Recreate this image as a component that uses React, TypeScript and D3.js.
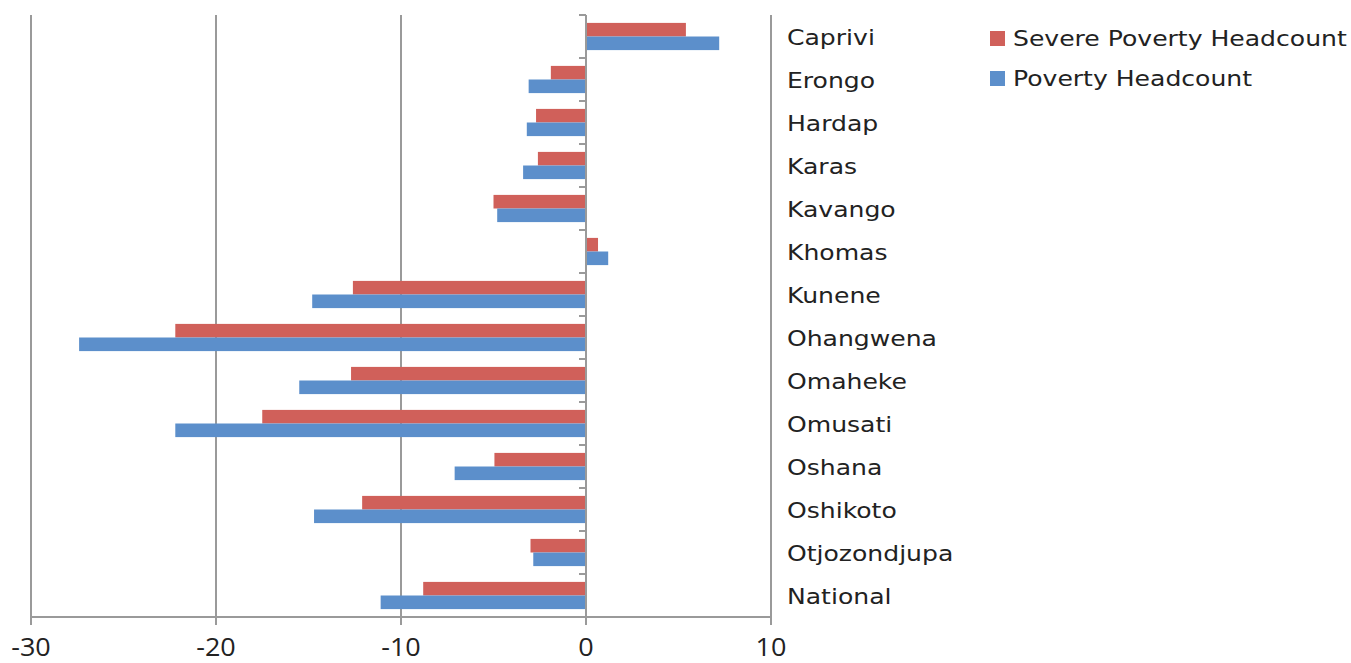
import React from "react";
import * as d3 from "d3";

const categories = [
  "Caprivi", "Erongo", "Hardap", "Karas", "Kavango", "Khomas", "Kunene",
  "Ohangwena", "Omaheke", "Omusati", "Oshana", "Oshikoto", "Otjozondjupa", "National",
];
const severePoverty = [5.4, -1.9, -2.7, -2.6, -5.0, 0.65, -12.6, -22.2, -12.7, -17.5, -4.95, -12.1, -3.0, -8.8];
const poverty = [7.2, -3.1, -3.2, -3.4, -4.8, 1.2, -14.8, -27.4, -15.5, -22.2, -7.1, -14.7, -2.85, -11.1];
const xTicks = [-30, -20, -10, 0, 10];
const seriesNames = ["Severe Poverty Headcount", "Poverty Headcount"];
const seriesColors = ["#D0605A", "#5C8FCB"];

export default function App() {
  const W = 1351, H = 663;
  const left = 31, right = 771, top = 15, bottom = 617;
  const x = d3.scaleLinear().domain([-30, 10]).range([left, right]);
  const y = d3.scaleBand<string>().domain(categories).range([top, bottom]).paddingInner(0).paddingOuter(0);
  const bw = y.bandwidth();
  const barH = 13.6;
  const gridColor = "#9a9a9a";
  const series = [severePoverty, poverty];
  const x0 = x(0);
  const sx = 1.14;
  const labelFont = "'DejaVu Sans', Verdana, sans-serif";

  return (
    <svg width={W} height={H} style={{ position: "absolute", left: 0, top: 0, background: "#fff" }}>
      {xTicks.filter((t) => t !== 0).map((t) => (
        <line key={"g" + t} x1={x(t)} x2={x(t)} y1={top} y2={bottom} stroke={gridColor} strokeWidth={2} />
      ))}
      {categories.map((c, i) => {
        const y0 = (y(c) as number) + bw / 2 - barH;
        return series.map((s, k) => {
          const v = s[i];
          return (
            <rect
              key={c + k}
              x={Math.min(x(v), x0)}
              y={y0 + k * barH}
              width={Math.abs(x(v) - x0)}
              height={barH}
              fill={seriesColors[k]}
            />
          );
        });
      })}
      <line x1={x0} x2={x0} y1={top} y2={bottom} stroke={gridColor} strokeWidth={2} />
      {categories.map((c) => (
        <line key={"t" + c} x1={x0 - 7} x2={x0} y1={y(c) as number} y2={y(c) as number} stroke={gridColor} strokeWidth={2} />
      ))}
      <line x1={x0 - 7} x2={x0} y1={bottom} y2={bottom} stroke={gridColor} strokeWidth={2} />
      <line x1={left} x2={right} y1={bottom} y2={bottom} stroke={gridColor} strokeWidth={2} />
      {xTicks.map((t) => (
        <g key={"xt" + t}>
          <line x1={x(t)} x2={x(t)} y1={bottom} y2={bottom + 8} stroke={gridColor} strokeWidth={2} />
          <text
            transform={`translate(${x(t)},656) scale(1.08,1)`}
            textAnchor="middle"
            fontFamily="'Open Sans', 'Liberation Sans', sans-serif"
            fontSize={25}
            fill="#222"
          >
            {t}
          </text>
        </g>
      ))}
      {categories.map((c) => (
        <text
          key={"l" + c}
          transform={`translate(787,${(y(c) as number) + bw / 2 + 8.5}) scale(${sx},1)`}
          fontFamily={labelFont}
          fontSize={22}
          fill="#222"
        >
          {c}
        </text>
      ))}
      {seriesNames.map((n, k) => (
        <g key={"lg" + k}>
          <rect x={990} y={31 + k * 40} width={15} height={15} fill={seriesColors[k]} />
          <text
            transform={`translate(1013,${46 + k * 40}) scale(${sx},1)`}
            fontFamily={labelFont}
            fontSize={22}
            fill="#222"
          >
            {n}
          </text>
        </g>
      ))}
    </svg>
  );
}
